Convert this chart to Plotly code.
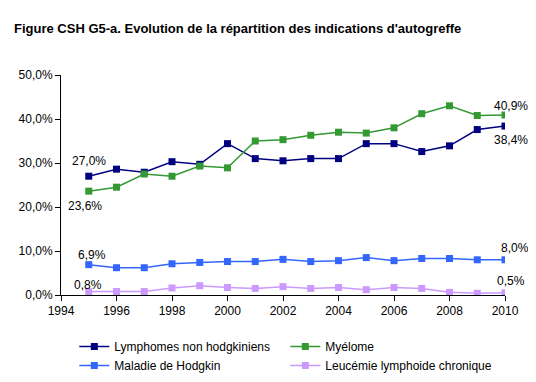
import plotly.graph_objects as go

years = list(range(1995, 2011))
lnh = [27.0, 28.6, 27.9, 30.3, 29.7, 34.4, 31.0, 30.5, 31.0, 31.0, 34.4, 34.4, 32.6, 33.9, 37.6, 38.4]
myelome = [23.6, 24.5, 27.5, 27.0, 29.3, 28.9, 35.0, 35.3, 36.3, 37.0, 36.8, 38.0, 41.2, 43.0, 40.8, 40.9]
hodgkin = [6.9, 6.2, 6.2, 7.1, 7.4, 7.6, 7.6, 8.1, 7.6, 7.8, 8.5, 7.8, 8.3, 8.3, 8.0, 8.0]
llc = [0.8, 0.8, 0.8, 1.6, 2.1, 1.7, 1.5, 1.9, 1.5, 1.7, 1.2, 1.7, 1.5, 0.6, 0.4, 0.5]

names = ["Lymphomes non hodgkiniens", "Myélome", "Maladie de Hodgkin", "Leucémie lymphoide chronique"]
colors = ["#000080", "#339933", "#3366FF", "#CC99FF"]
series = [lnh, myelome, hodgkin, llc]
ytick_vals = [0, 10, 20, 30, 40, 50]
ytick_text = ["0,0%", "10,0%", "20,0%", "30,0%", "40,0%", "50,0%"]

FONT = "Liberation Sans, Arial, sans-serif"
W, H = 528, 374

fig = go.Figure()
for n, c, s in zip(names, colors, series):
    fig.add_trace(go.Scatter(x=years, y=s, name=n, mode="lines+markers",
                             line=dict(color=c, width=1.5),
                             marker=dict(symbol="square", size=7, color=c)))

def fmt(v):
    return f"{v:.1f}".replace(".", ",") + "%"

labels = [
    (lnh, 0, 0, 15),
    (myelome, 0, -4, -15),
    (hodgkin, 0, 3, 10),
    (llc, 0, -1, 6),
    (myelome, -1, 6, 9),
    (lnh, -1, 6, -14),
    (hodgkin, -1, 10, 12),
    (llc, -1, 6, 12),
]
for s, i, xs, ys in labels:
    fig.add_annotation(x=years[i], y=s[i], text=fmt(s[i]), showarrow=False,
                       xshift=xs, yshift=ys, font=dict(family=FONT, size=12, color="black"))

fig.update_layout(
    width=W, height=H,
    margin=dict(l=53, r=31, t=67, b=87, autoexpand=False),
    paper_bgcolor="white", plot_bgcolor="white",
    font=dict(family=FONT, size=11, color="black"),
    title=dict(text="<b>Figure CSH G5-a. Evolution de la répartition des indications d'autogreffe</b>",
               x=6 / W, xref="container", xanchor="left", y=1 - 20 / H, yref="container", yanchor="middle",
               font=dict(family=FONT, size=13, color="black")),
    showlegend=True,
    legend=dict(orientation="h", x=0.03, y=1 - 324 / H, yref="container", xanchor="left", yanchor="top",
                entrywidth=166, entrywidthmode="pixels", tracegroupgap=0,
                font=dict(family=FONT, size=12), itemwidth=30,
                bgcolor="rgba(0,0,0,0)"),
)
fig.update_xaxes(range=[1994, 2010], tickmode="linear", tick0=1994, dtick=2,
                 showgrid=False, zeroline=False, showline=True, linecolor="black", linewidth=1,
                 ticks="outside", ticklen=5, tickcolor="black", tickfont=dict(size=12))
fig.update_yaxes(range=[0, 50], tickmode="array", tickvals=ytick_vals, ticktext=ytick_text,
                 showgrid=False, zeroline=False, showline=True, linecolor="black", linewidth=1,
                 ticks="outside", ticklen=5, tickcolor="black", tickfont=dict(size=12))

fig.write_html("out.html")
